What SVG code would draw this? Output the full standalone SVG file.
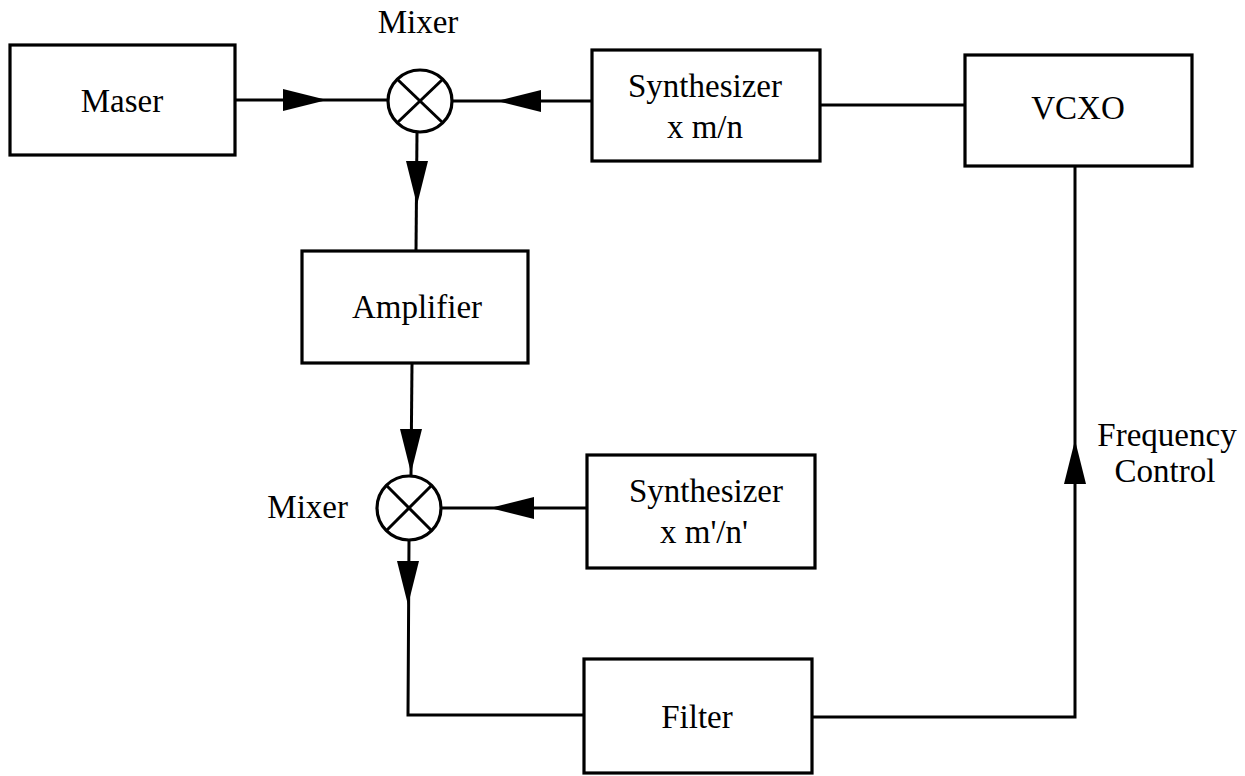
<svg xmlns="http://www.w3.org/2000/svg" xmlns:xlink="http://www.w3.org/1999/xlink" width="1245" height="776" viewBox="0 0 1245 776">
<style>
.box{fill:#fff;stroke:#000;stroke-width:3.2}
.wire{fill:none;stroke:#000;stroke-width:3}
.mix{fill:#fff;stroke:#000;stroke-width:3.2}
.t{font-family:"Liberation Serif","Times New Roman",serif;font-size:33px;fill:#000;text-anchor:middle}
.ah{fill:#000}
</style>
<defs>
<path id="ah" class="ah" d="M0,0 L-44,-11 L-44,11 Z"/>
</defs>
<rect width="1245" height="776" fill="#fff"/>
<g id="connectors">
<line class="wire" x1="235" y1="100" x2="388" y2="100"/>
<use xlink:href="#ah" transform="translate(327,100)"/>
<line class="wire" x1="452" y1="101" x2="592" y2="101"/>
<use xlink:href="#ah" transform="translate(497,101) rotate(180)"/>
<line class="wire" x1="820" y1="105" x2="965" y2="105"/>
<line class="wire" x1="417" y1="132" x2="416" y2="251"/>
<use xlink:href="#ah" transform="translate(417,205) rotate(90)"/>
<line class="wire" x1="412" y1="363" x2="411" y2="475"/>
<use xlink:href="#ah" transform="translate(411,473) rotate(90)"/>
<line class="wire" x1="441" y1="508" x2="587" y2="508"/>
<use xlink:href="#ah" transform="translate(490,508) rotate(180)"/>
<polyline class="wire" points="409,540 408,715 584,715"/>
<use xlink:href="#ah" transform="translate(408,605) rotate(90)"/>
<polyline class="wire" points="812,717 1075,717 1075,166"/>
<use xlink:href="#ah" transform="translate(1075,440) rotate(-90)"/>
</g>
<g id="maser">
<rect class="box" x="10" y="45" width="225" height="110"/>
<text class="t" x="122" y="112">Maser</text>
</g>
<g id="mixer1">
<ellipse class="mix" cx="420" cy="101" rx="32" ry="31"/>
<line class="wire" x1="397" y1="79" x2="443" y2="123"/>
<line class="wire" x1="443" y1="79" x2="397" y2="123"/>
<text class="t" x="418" y="33">Mixer</text>
</g>
<g id="synth1">
<rect class="box" x="592" y="50" width="228" height="111"/>
<text class="t" x="705" y="97">Synthesizer</text>
<text class="t" x="705" y="138">x m/n</text>
</g>
<g id="vcxo">
<rect class="box" x="965" y="55" width="227" height="111"/>
<text class="t" x="1078" y="119">VCXO</text>
</g>
<g id="amplifier">
<rect class="box" x="302" y="251" width="226" height="112"/>
<text class="t" x="417" y="318">Amplifier</text>
</g>
<g id="mixer2">
<ellipse class="mix" cx="409" cy="508" rx="32" ry="32"/>
<line class="wire" x1="386" y1="485" x2="432" y2="531"/>
<line class="wire" x1="432" y1="485" x2="386" y2="531"/>
<text class="t" x="348" y="518" style="text-anchor:end">Mixer</text>
</g>
<g id="synth2">
<rect class="box" x="587" y="455" width="228" height="113"/>
<text class="t" x="706" y="502">Synthesizer</text>
<text class="t" x="704" y="543">x m'/n'</text>
</g>
<g id="filter">
<rect class="box" x="584" y="659" width="228" height="114"/>
<text class="t" x="697" y="728">Filter</text>
</g>
<g id="freq-label">
<text class="t" x="1167" y="446">Frequency</text>
<text class="t" x="1165" y="482">Control</text>
</g>
</svg>
